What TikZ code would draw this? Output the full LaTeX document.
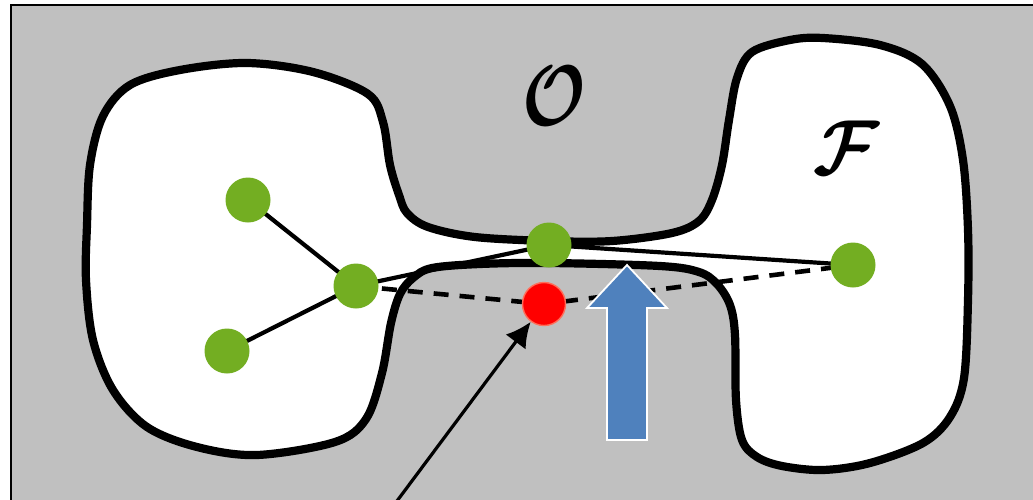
\documentclass[tikz,border=0pt]{standalone}
\usepackage{amsmath,bm}
\usetikzlibrary{arrows.meta}
\definecolor{obstacle}{RGB}{192,192,192}
\definecolor{vgreen}{RGB}{115,174,34}
\definecolor{vred}{RGB}{255,0,0}
\definecolor{vredrim}{RGB}{255,110,90}
\definecolor{pushblue}{RGB}{79,129,189}
\tikzset{
  vertex/.style={circle,fill=vgreen,minimum size=45pt,inner sep=0pt},
  badvertex/.style={circle,fill=vred,draw=vredrim,line width=1.4pt,minimum size=43pt,inner sep=0pt},
  edge/.style={line width=4.2pt},
  tentative/.style={line width=4.6pt,dash pattern=on 15pt off 11pt},
  boundary/.style={line width=8.2pt,line join=round},
  bigletter/.style={inner sep=0pt}
}
\begin{document}
\begin{tikzpicture}[x=1pt,y=-1pt]
\useasboundingbox (0,0) rectangle (1033,499);
\clip (0,0) rectangle (1033,499);
% obstacle region
\draw[fill=obstacle,line width=2.2pt] (11,5) rectangle (1045,515);
% free space
\draw[boundary,fill=white] plot[smooth cycle,tension=0.55] coordinates {
  (103,116) (130,85) (180,70) (247,63) (313,72) (368,94) (383,122) (390,165)
  (399,195) (407,213) (428,227) (475,237) (549,241) (612,241) (672,233)
  (699,221) (712,200) (722,165) (729,120) (737,78) (752,52) (790,40) (823,38)
  (880,45) (922,64) (950,106) (963,160) (968,230) (968,300) (964,378)
  (950,417) (923,443) (870,463) (823,470) (782,466) (757,457) (742,440)
  (736,400) (735,335) (730,305) (717,284) (699,272) (660,266) (549,263)
  (480,264) (432,268) (413,278) (400,294) (391,323) (382,373) (366,419)
  (335,442) (257,455) (197,447) (147,427) (113,390) (93,340) (86,280)
  (87,225) (90,165)
};
% vertex positions
\coordinate (pa) at (248,200);
\coordinate (pb) at (356,286);
\coordinate (pc) at (227,351);
\coordinate (pd) at (549,245);
\coordinate (pe) at (853,265);
\coordinate (pr) at (544,304);
% edges of the roadmap
\draw[edge] (pa) -- (pb);
\draw[edge] (pc) -- (pb);
\draw[edge] (pb) -- (pd);
\draw[edge] (pd) -- (pe);
\draw[tentative] (pb) -- (pr) -- (pe);
% vertices
\node[vertex] (a) at (pa) {};
\node[vertex] (b) at (pb) {};
\node[vertex] (c) at (pc) {};
\node[vertex] (d) at (pd) {};
\node[vertex] (e) at (pe) {};
\node[badvertex] (r) at (pr) {};
% push direction
\draw[draw=white,line width=1.8pt,fill=pushblue,line join=miter]
  (607,440) -- (607,308) -- (587,308) -- (627,265) -- (667,308) -- (647,308) -- (647,440) -- cycle;
% pointer to the colliding vertex
\coordinate (tail) at (394,505);
\draw[line width=3.2pt,-{Latex[length=25pt,width=25pt]}] (tail) -- (r);
% labels
\node[bigletter,xscale=6.8,yscale=8.6] (olabel) at (554,96) {$\bm{\mathcal{O}}$};
\node[bigletter,xscale=7.2,yscale=7.8] (flabel) at (846,148) {$\bm{\mathcal{F}}$};
\end{tikzpicture}
\end{document}
